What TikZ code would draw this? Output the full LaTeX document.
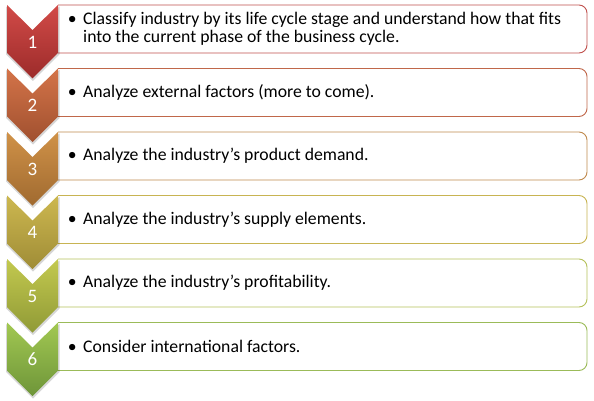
\documentclass[tikz,border=0pt]{standalone}
\usepackage{fontspec}
\setmainfont{Carlito}
\definecolor{cAt}{HTML}{D24B48}\definecolor{cAb}{HTML}{9C2B2A}\definecolor{bA}{HTML}{C0504D}
\definecolor{cBt}{HTML}{D47449}\definecolor{cBb}{HTML}{A0502F}\definecolor{bB}{HTML}{C0674A}
\definecolor{cCt}{HTML}{D09248}\definecolor{cCb}{HTML}{A06A30}\definecolor{bC}{HTML}{C08A4E}
\definecolor{cDt}{HTML}{CDB850}\definecolor{cDb}{HTML}{9F8C36}\definecolor{bD}{HTML}{C8B452}
\definecolor{cEt}{HTML}{C3C94F}\definecolor{cEb}{HTML}{909A36}\definecolor{bE}{HTML}{B5C15A}
\definecolor{cFt}{HTML}{A2C852}\definecolor{cFb}{HTML}{6E9539}\definecolor{bF}{HTML}{9BBB59}
\newcommand\stagerow[6]{%
  \filldraw[boxline,draw=#5,fill=white,rounded corners=8pt]
    (58,#2) -- (587,#2) -- (587,{#2+48}) -- (58,{#2+48});
  \fill[black,opacity=0.16] (6,{#2+1.5}) -- (33,{#2+27}) -- (59.5,{#2+1.5}) -- (59.5,{#2+49.5}) -- (33,{#2+76}) -- (6,{#2+49.5}) -- cycle;
  \shade[top color=#3,bottom color=#4]
    (7,#2) -- (32.5,{#2+25}) -- (58,#2) -- (58,{#2+48}) -- (32.5,{#2+73.5}) -- (7,{#2+48}) -- cycle;
  \node[numtext] (n#1) at (32.5,{#2+37}) {#1};
  \node[itemtext] (t#1) at (72,{#2+24}) {#6};
}
\begin{document}
\begin{tikzpicture}[x=1pt,y=-1pt,
  numtext/.style={text=white,font=\fontsize{19}{21}\selectfont,inner sep=0},
  itemtext/.style={anchor=west,inner sep=0,align=left,font=\fontsize{17.7}{18}\selectfont,text=black},
  boxline/.style={line width=0.9pt}]
\useasboundingbox (0,0) rectangle (594,401);
\stagerow{1}{5}{cAt}{cAb}{bA}{\makebox[0pt][c]{•}\hspace{11pt}Classify industry by its life cycle stage and understand how that fits\\\hspace{11pt}into the current phase of the business cycle.}
\stagerow{2}{68.5}{cBt}{cBb}{bB}{\makebox[0pt][c]{•}\hspace{11pt}Analyze external factors (more to come).}
\stagerow{3}{132}{cCt}{cCb}{bC}{\makebox[0pt][c]{•}\hspace{11pt}Analyze the industry’s product demand.}
\stagerow{4}{195.5}{cDt}{cDb}{bD}{\makebox[0pt][c]{•}\hspace{11pt}Analyze the industry’s supply elements.}
\stagerow{5}{259}{cEt}{cEb}{bE}{\makebox[0pt][c]{•}\hspace{11pt}Analyze the industry’s profitability.}
\stagerow{6}{322.5}{cFt}{cFb}{bF}{\makebox[0pt][c]{•}\hspace{11pt}Consider international factors.}
\end{tikzpicture}
\end{document}
